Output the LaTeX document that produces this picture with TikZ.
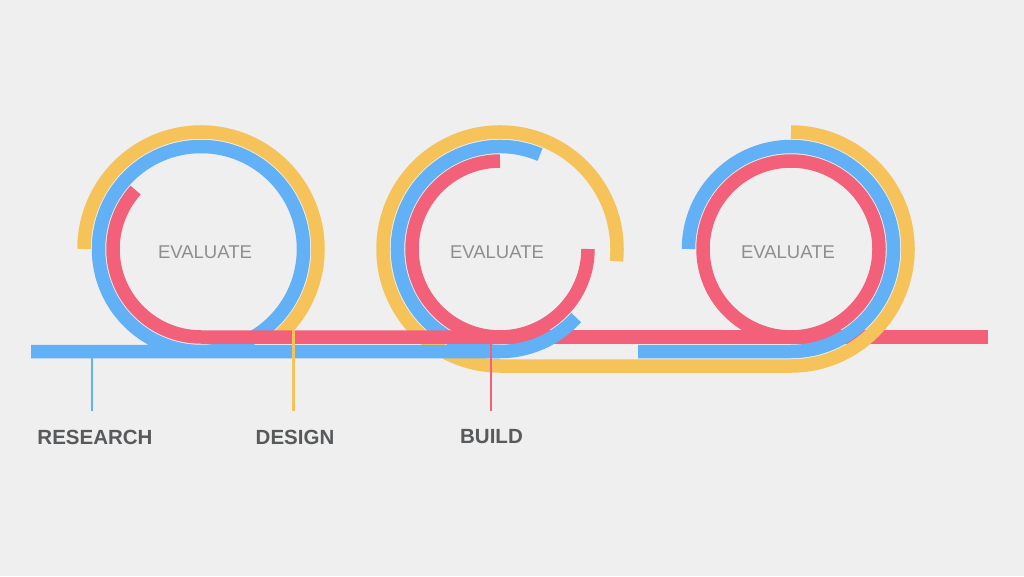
\documentclass[tikz,border=0pt]{standalone}
\usepackage{fontspec}
\setmainfont{Liberation Sans}
\definecolor{bg}{HTML}{EFEFEF}
\definecolor{cblue}{HTML}{62B1F6}
\definecolor{cyellow}{HTML}{F5C35A}
\definecolor{cred}{HTML}{F2607A}
\definecolor{labelgray}{HTML}{58595B}
\definecolor{evalgray}{HTML}{8E8E8E}
\begin{document}
\begin{tikzpicture}[x=1pt,y=1pt,
  band/.style={line width=13.5pt, line cap=butt},
  tickline/.style={line width=2.2pt},
  lab/.style={font=\bfseries\fontsize{20.5}{24}\selectfont, text=labelgray, inner sep=0pt},
  ev/.style={font=\fontsize{18.5}{22}\selectfont, text=evalgray, inner sep=0pt}]
\fill[bg] (0,0) rectangle (1024,576);
\useasboundingbox (0,0) rectangle (1024,576);
% loop centres
\coordinate (c1) at (201,327);
\coordinate (c2) at (500,327);
\coordinate (c3) at (791,327);
% line anchor points
\coordinate (b0) at (31,224.5);
\coordinate (b1b) at (201,224.5);
\coordinate (b2b) at (500,224.5);
\coordinate (b3s) at (638,224.5);
\coordinate (b3b) at (791,224.5);
\coordinate (y3b) at (791,210);
\coordinate (ra) at (515,239);
\coordinate (rb1) at (515,239);
\coordinate (rb2) at (988,239);
% ticks
\coordinate (t1a) at (92,218);
\coordinate (t1b) at (92,165);
\coordinate (t2a) at (293.5,249);
\coordinate (t2b) at (293.5,165);
\coordinate (t3a) at (491,245);
\coordinate (t3b) at (491,165);

% red line, right part (beneath the loops)
\draw[band,cred] (rb1) -- (rb2);
% yellow
\draw[band,cyellow] ([shift={(180:117)}]c1) arc[start angle=180,end angle=-48,radius=117];
\draw[band,cyellow] ([shift={(-6:117)}]c2) arc[start angle=-6,end angle=270,radius=117]
  -- (y3b) arc[start angle=-90,end angle=90,radius=117];
% blue
\draw[band,cblue] (b0) -- (b1b) arc[start angle=-90,end angle=270,radius=102.5] -- (b2b);
\draw[band,cblue] ([shift={(67:102.5)}]c2) arc[start angle=67,end angle=318,radius=102.5];
\draw[band,cblue] (b3s) -- (b3b) arc[start angle=-90,end angle=180,radius=102.5];
% red
\draw[band,cred] ([shift={(138:88)}]c1) arc[start angle=138,end angle=270,radius=88] -- (ra);
\draw[band,cred] ([shift={(90:88)}]c2) arc[start angle=90,end angle=360,radius=88];
\draw[band,cred] (c3) circle[radius=88];

% ticks
\draw[tickline,cblue] (t1a) -- (t1b);
\draw[tickline,cyellow] (t2a) -- (t2b);
\draw[tickline,cred] (t3a) -- (t3b);

% labels
\node[lab] (research) at (95,139) {RESEARCH};
\node[lab] (design) at (295,139) {DESIGN};
\node[lab] (build) at (491.5,139) {BUILD};
\node[ev] (eval1) at (205,324) {EVALUATE};
\node[ev] (eval2) at (497,324) {EVALUATE};
\node[ev] (eval3) at (788,324) {EVALUATE};
\end{tikzpicture}
\end{document}
